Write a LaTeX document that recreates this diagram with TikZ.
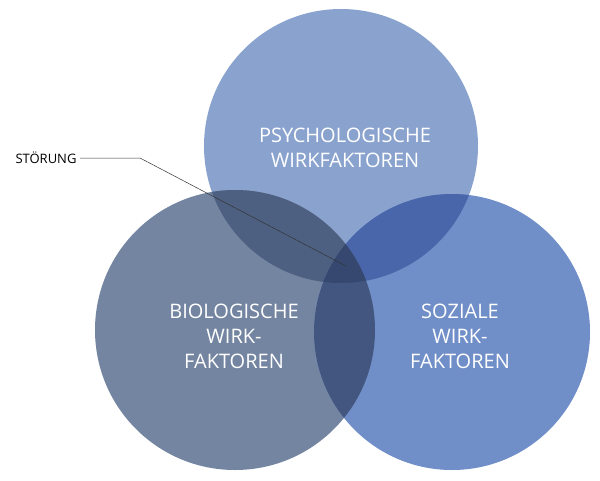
\documentclass[tikz,border=0pt]{standalone}
\usepackage{fontspec}
\setmainfont{Open Sans}
\definecolor{psycol}{RGB}{138,163,206}
\definecolor{biocol}{RGB}{116,133,161}
\definecolor{sozcol}{RGB}{112,142,199}
\definecolor{psybio}{RGB}{78,96,130}
\definecolor{psysoz}{RGB}{74,102,170}
\definecolor{biosoz}{RGB}{66,86,128}
\definecolor{allcol}{RGB}{54,72,112}
\begin{document}
\begin{tikzpicture}[x=1pt,y=-1pt,
        factor/.style={font=\fontsize{20}{25}\selectfont,text=white,align=center},
        label/.style={font=\fontsize{13}{15}\selectfont,text=black},
        lead/.style={draw=black!80,line width=0.5pt},
      ]
      \useasboundingbox (0,0) rectangle (600,480);
      \def\psyc{(341,146) circle (137)}
      \def\bioc{(235,330) circle (140)}
      \def\sozc{(452,332) circle (138)}
%
      \fill[psycol] \psyc;
      \fill[biocol] \bioc;
      \fill[sozcol] \sozc;
%
      \begin{scope}
        \clip \psyc;
        \fill[psybio] \bioc;
        \fill[psysoz] \sozc;
      \end{scope}
      \begin{scope}
        \clip \bioc;
        \fill[biosoz] \sozc;
        \clip \psyc;
        \fill[allcol] \sozc;
      \end{scope}
%
      \node[factor] at (345,148) (psy) {PSYCHOLOGISCHE\\WIRKFAKTOREN};
      \node[factor] at (234,336) (bio) {BIOLOGISCHE\\WIRK-\\FAKTOREN};
      \node[factor] at (460,336) (soz) {SOZIALE\\WIRK-\\FAKTOREN};
%
      \node[label,anchor=west] at (12,158) (stoer) {STÖRUNG};
      \coordinate (bend) at (140,158);
      \coordinate (core) at (346,266);
      \path[lead] (stoer.east) -- (bend) -- (core);
    \end{tikzpicture}
\end{document}
